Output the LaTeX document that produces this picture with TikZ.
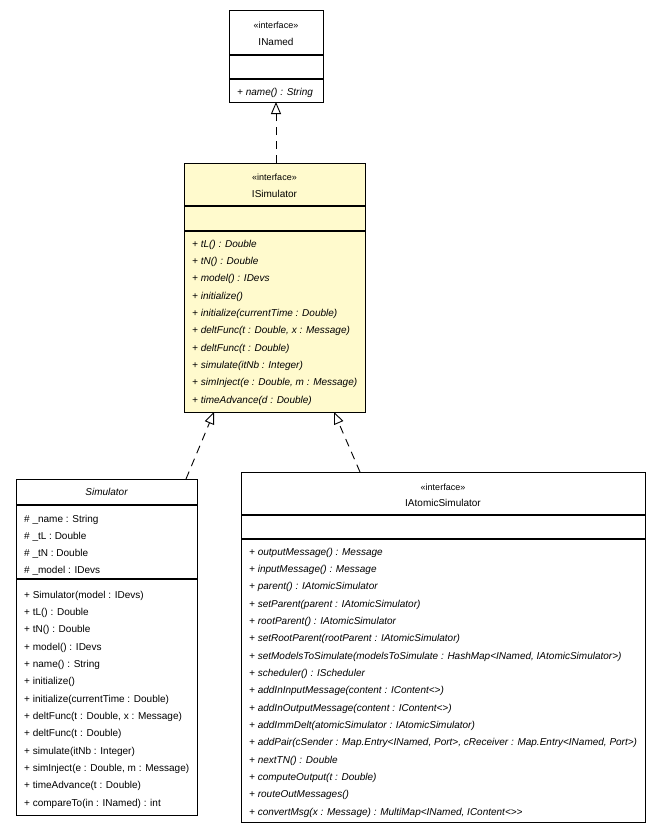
\documentclass[tikz,border=0pt]{standalone}
\usepackage{fontspec}
\setmainfont{Liberation Sans}
\usetikzlibrary{arrows.meta}
\definecolor{ifill}{RGB}{255,250,205}
\tikzset{
  box/.style={draw, line width=1pt, anchor=north west, inner sep=0pt, fill=white},
  txt/.style={anchor=west, inner sep=0pt, text height=7pt, text depth=2pt, yshift=-1.8pt, font=\fontsize{10}{12}\selectfont},
  itxt/.style={txt, font=\fontsize{10}{12}\selectfont\itshape},
  ctxt/.style={anchor=center, inner sep=0pt, text height=7pt, text depth=2pt, yshift=-1.5pt, font=\fontsize{10}{12}\selectfont},
  stxt/.style={ctxt, font=\fontsize{9}{11}\selectfont},
  divline/.style={line width=1.3pt},
  realize/.style={line width=0.9pt, dash pattern=on 8pt off 6pt, -{Triangle[open, length=12pt, width=10pt, line width=0.9pt, fill=white]}}
}
\begin{document}
\begin{tikzpicture}[x=1pt,y=-1pt]
\useasboundingbox (0,0) rectangle (661,835);

% ---------- INamed ----------
\node[box, minimum width=94pt, minimum height=92pt] (inamed) at (229,10) {};
\draw[divline] (229,55) -- (323,55);
\draw[divline] (229,79) -- (323,79);
\node[stxt] (inst) at (276,24) {«interface»};
\node[ctxt] (inname) at (276,41) {INamed};
\node[itxt] (inm1) at (237,91) {+ name() : String};

% ---------- ISimulator ----------
\node[box, fill=ifill, minimum width=181pt, minimum height=249pt] (isim) at (184,163) {};
\draw[divline] (184,206) -- (365,206);
\draw[divline] (184,231) -- (365,231);
\node[stxt] (isst) at (274.5,176) {«interface»};
\node[ctxt] (isname) at (274.5,193) {ISimulator};
\foreach \t [count=\i from 0] in {
  {+ tL() : Double},
  {+ tN() : Double},
  {+ model() : IDevs},
  {+ initialize()},
  {+ initialize(currentTime : Double)},
  {+ deltFunc(t : Double, x : Message)},
  {+ deltFunc(t : Double)},
  {+ simulate(itNb : Integer)},
  {+ simInject(e : Double, m : Message)},
  {+ timeAdvance(d : Double)}}
  \node[itxt] (ism\i) at (192,243+17.33*\i) {\t};

% ---------- Simulator ----------
\node[box, minimum width=181pt, minimum height=336pt] (sim) at (16,479) {};
\draw[divline] (16,505) -- (197,505);
\draw[divline] (16,579) -- (197,579);
\node[ctxt, font=\fontsize{10}{12}\selectfont\itshape] (simname) at (106.5,491) {Simulator};
\foreach \t [count=\i from 0] in {
  {\# \_name : String},
  {\# \_tL : Double},
  {\# \_tN : Double},
  {\# \_model : IDevs}}
  \node[txt] (sa\i) at (24,518+17.2*\i) {\t};
\foreach \t [count=\i from 0] in {
  {+ Simulator(model : IDevs)},
  {+ tL() : Double},
  {+ tN() : Double},
  {+ model() : IDevs},
  {+ name() : String},
  {+ initialize()},
  {+ initialize(currentTime : Double)},
  {+ deltFunc(t : Double, x : Message)},
  {+ deltFunc(t : Double)},
  {+ simulate(itNb : Integer)},
  {+ simInject(e : Double, m : Message)},
  {+ timeAdvance(t : Double)},
  {+ compareTo(in : INamed) : int}}
  \node[txt] (sm\i) at (24,594+17.33*\i) {\t};

% ---------- IAtomicSimulator ----------
\node[box, minimum width=404pt, minimum height=350pt] (iatom) at (241,472) {};
\draw[divline] (241,515) -- (645,515);
\draw[divline] (241,539) -- (645,539);
\node[stxt] (iast) at (443,486) {«interface»};
\node[ctxt] (ianame) at (443,502) {IAtomicSimulator};
\foreach \t [count=\i from 0] in {
  {+ outputMessage() : Message},
  {+ inputMessage() : Message},
  {+ parent() : IAtomicSimulator},
  {+ setParent(parent : IAtomicSimulator)},
  {+ rootParent() : IAtomicSimulator},
  {+ setRootParent(rootParent : IAtomicSimulator)},
  {+ setModelsToSimulate(modelsToSimulate : HashMap<INamed, IAtomicSimulator>)},
  {+ scheduler() : IScheduler},
  {+ addInInputMessage(content : IContent<>)},
  {+ addInOutputMessage(content : IContent<>)},
  {+ addImmDelt(atomicSimulator : IAtomicSimulator)},
  {+ addPair(cSender : Map.Entry<INamed, Port>, cReceiver : Map.Entry<INamed, Port>)},
  {+ nextTN() : Double},
  {+ computeOutput(t : Double)},
  {+ routeOutMessages()},
  {+ convertMsg(x : Message) : MultiMap<INamed, IContent<>{}>}}
  \node[itxt] (iam\i) at (249,551+17.33*\i) {\t};

% ---------- connectors ----------
\coordinate (c1s) at (276,163);
\coordinate (c1t) at (276,102);
\coordinate (c2s) at (186,479);
\coordinate (c2t) at (214,412);
\coordinate (c3s) at (360,472);
\coordinate (c3t) at (334,412);
\draw[realize] (c1s) -- (c1t);
\draw[realize] (c2s) -- (c2t);
\draw[realize] (c3s) -- (c3t);
\end{tikzpicture}
\end{document}
